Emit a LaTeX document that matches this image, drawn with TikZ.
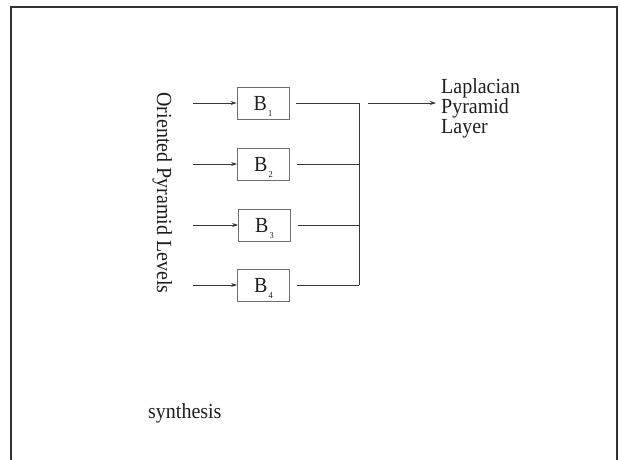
\documentclass[tikz,border=0pt]{standalone}
\usepackage{fontspec}
\setmainfont{Liberation Serif}
\newfontfamily\tallfont[FakeStretch=0.93]{Liberation Serif}
\usetikzlibrary{arrows.meta}
\definecolor{boxgray}{RGB}{110,110,110}
\definecolor{linegray}{RGB}{55,55,55}
\definecolor{textgray}{RGB}{30,30,30}
\definecolor{framegray}{RGB}{50,50,50}
\newcommand\subidx[1]{\hspace{1pt}\raisebox{-6pt}{\fontsize{9}{9}\selectfont #1}}
\begin{document}
\begin{tikzpicture}[x=1pt,y=-1pt,
  blk/.style={draw=boxgray, line width=0.9pt, minimum width=52pt, minimum height=32pt,
    inner sep=0pt, text height=14.5pt, text depth=0pt, text=textgray,
    font=\tallfont\fontsize{21.5}{20.3}\selectfont},
  conn/.style={draw=linegray, line width=0.8pt},
  arr/.style={conn, -{Stealth[length=6pt,width=4pt]}},
  lbl/.style={font=\tallfont\fontsize{21.5}{20.3}\selectfont, text=textgray, inner sep=0pt},
  frame/.style={draw=framegray, line width=2pt}]
\useasboundingbox (0,0) rectangle (620,459);
\draw[frame] (11,460) -- (11,7) -- (617,7) -- (617,460);

\node[blk] (b1) at (263,103) {B\subidx{1}};
\node[blk] (b2) at (263.5,164) {B\subidx{2}};
\node[blk] (b3) at (264.5,225) {B\subidx{3}};
\node[blk] (b4) at (263.5,285) {B\subidx{4}};

\coordinate (i1) at (193,103);
\coordinate (i2) at (193,164);
\coordinate (i3) at (193,225);
\coordinate (i4) at (193,285);
\foreach \k in {1,2,3,4}{\draw[arr] (i\k) -- (b\k.west);}

\coordinate (j1) at (359,103);
\coordinate (j2) at (359,164);
\coordinate (j3) at (359,225);
\coordinate (j4) at (359,285);
\foreach \k in {1,2,3,4}{\draw[conn, shorten <=7pt] (b\k.east) -- (j\k);}
\draw[conn] (j1) -- (j4);

\node[lbl, anchor=north west, align=left] (lay) at (441,78) {Laplacian\\Pyramid\\Layer};
\coordinate (o1) at (368,103);
\draw[arr, shorten >=5pt] (o1) -- (o1 -| lay.west);

\node[lbl, rotate=-90, anchor=base] (opl) at (157,193) {Oriented Pyramid Levels};
\node[lbl, anchor=base west] (syn) at (148,418) {synthesis};
\end{tikzpicture}
\end{document}
